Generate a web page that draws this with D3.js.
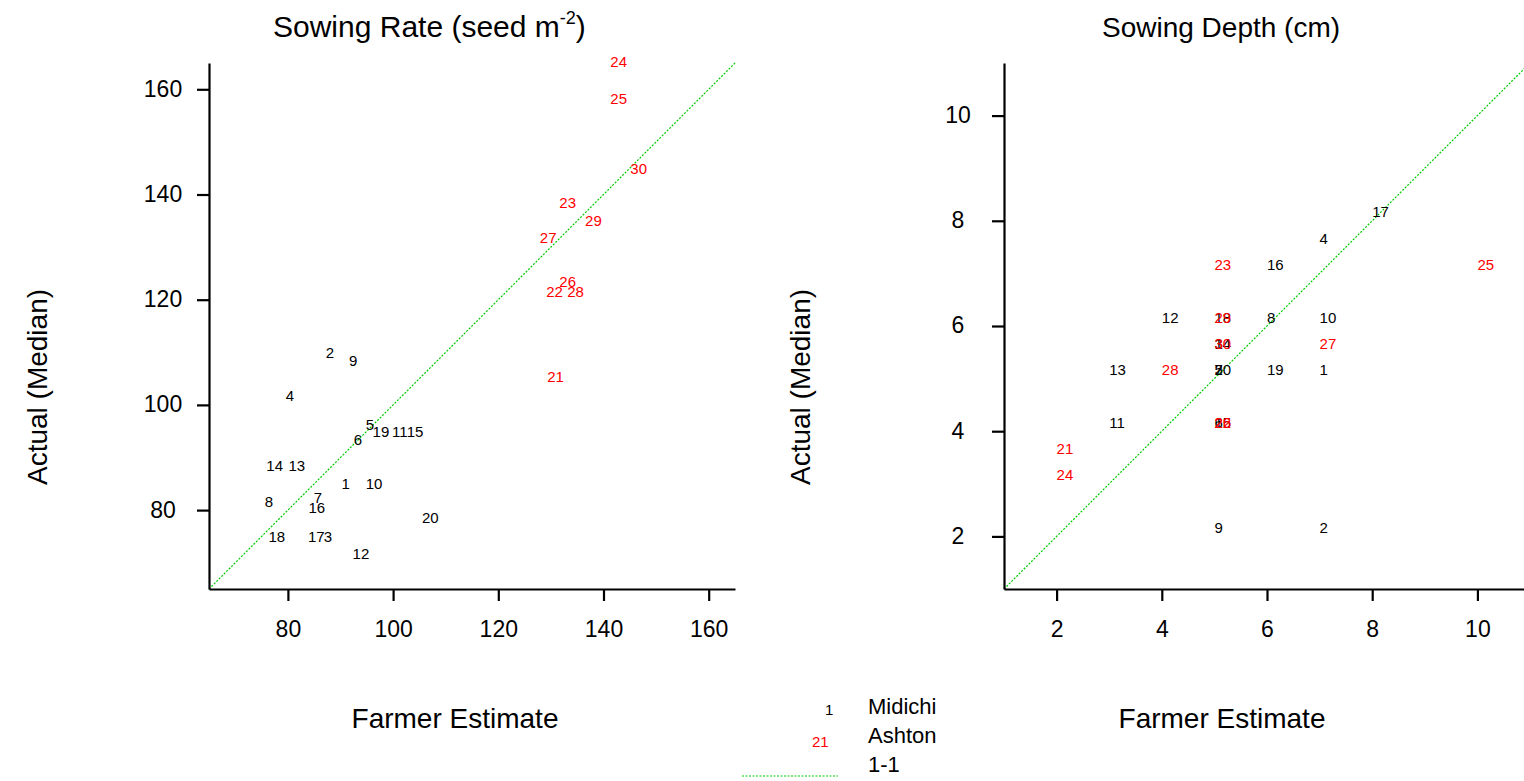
<!DOCTYPE html>
<html>
<head>
<meta charset="utf-8">
<script src="https://cdn.jsdelivr.net/npm/d3@7"></script>
<style>
  html, body { margin: 0; padding: 0; background: #fff; }
  svg { display: block; font-family: "Liberation Sans", Arial, sans-serif; }
</style>
</head>
<body>
<svg id="chart" width="1524" height="781"></svg>
<script>
// Plot numbers: farms 1-20 are Midichi, 21-30 are Ashton
const midichiIds = [1, 2, 3, 4, 5, 6, 7, 8, 9, 10, 11, 12, 13, 14, 15, 16, 17, 18, 19, 20];
const ashtonIds = [21, 22, 23, 24, 25, 26, 27, 28, 29, 30];

// Sowing rate (seed m-2): farmer estimate vs actual median
const rateMidichiEst = [90.2, 87.2, 86.8, 79.6, 94.8, 92.5, 84.9, 75.6, 91.6, 94.8, 99.8, 92.3, 80.1, 75.9, 102.6, 83.9, 83.8, 76.3, 96.1, 105.5];
const rateMidichiAct = [83.4, 108.3, 73.3, 100.0, 94.6, 91.8, 80.6, 80.0, 106.8, 83.4, 93.3, 70.1, 86.7, 86.7, 93.3, 78.7, 73.3, 73.3, 93.3, 76.8];
const rateAshtonEst = [129.3, 129.1, 131.6, 141.3, 141.3, 131.6, 127.9, 133.1, 136.5, 145.1];
const rateAshtonAct = [103.6, 119.9, 136.8, 163.5, 156.6, 121.8, 130.2, 119.9, 133.4, 143.3];

// Sowing depth (cm): farmer estimate vs actual median
const depthMidichiEst = [7, 7, 5, 7, 5, 5, 5, 6, 5, 7, 3, 4, 3, 5, 5, 6, 8, 5, 6, 5];
const depthMidichiAct = [5, 2, 5.5, 7.5, 5, 4, 5, 6, 2, 6, 4, 6, 5, 5.5, 4, 7, 8, 6, 5, 5];
const depthAshtonEst = [2, 5, 5, 2, 10, 5, 7, 4, 5, 5];
const depthAshtonAct = [3.5, 4, 7, 3, 7, 4, 5.5, 5, 6, 5.5];

const rateDomain = [65, 165];
const depthDomain = [1, 11];
const rateTicks = [80, 100, 120, 140, 160];
const depthTicks = [2, 4, 6, 8, 10];

const svg = d3.select("#chart");
const BLACK = "#000000", RED = "#ff0000", GREEN = "#00cc00";

function panel(opts) {
  const x = d3.scaleLinear().domain(opts.domain).range([opts.left, opts.left + opts.size]);
  const y = d3.scaleLinear().domain(opts.domain).range([opts.bottom, opts.bottom - opts.size]);
  const g = svg.append("g");

  // 1-1 reference line
  g.append("line")
    .attr("x1", x(opts.domain[0])).attr("y1", y(opts.domain[0]))
    .attr("x2", x(opts.domain[1])).attr("y2", y(opts.domain[1]))
    .attr("stroke", GREEN).attr("stroke-width", 1.2)
    .attr("stroke-dasharray", "2,1.5");

  // axes
  const xAxis = d3.axisBottom(x).tickValues(opts.ticks).tickSize(12).tickSizeOuter(0).tickPadding(20);
  const yAxis = d3.axisLeft(y).tickValues(opts.ticks).tickSize(12).tickSizeOuter(0).tickPadding(22);
  const gx = g.append("g").attr("transform", `translate(0,${opts.bottom})`).call(xAxis);
  const gy = g.append("g").attr("transform", `translate(${opts.left},0)`).call(yAxis);
  [gx, gy].forEach(a => {
    a.selectAll("path, line").attr("stroke", BLACK).attr("stroke-width", 2.2);
    a.selectAll("text").attr("fill", BLACK).style("font-size", "23px");
  });
  gy.selectAll("text").attr("text-anchor", "middle").attr("x", -46).attr("dy", "0.3em");

  // numbered points
  const series = [
    { ids: midichiIds, est: opts.midichiEst, act: opts.midichiAct, color: BLACK },
    { ids: ashtonIds, est: opts.ashtonEst, act: opts.ashtonAct, color: RED }
  ];
  series.forEach(s => {
    g.append("g").selectAll("text")
      .data(s.ids.map((id, i) => ({ id, est: s.est[i], act: s.act[i] })))
      .join("text")
      .attr("x", d => x(d.est))
      .attr("y", d => y(d.act) - 3.5)
      .attr("fill", s.color)
      .style("font-size", "15px")
      .text(d => d.id);
  });

  // axis titles
  g.append("text")
    .attr("x", opts.xLabelX).attr("y", 728)
    .attr("text-anchor", "middle").style("font-size", "28px")
    .text("Farmer Estimate");
  g.append("text")
    .attr("transform", `translate(${opts.yLabelX},387) rotate(-90)`)
    .attr("text-anchor", "middle").style("font-size", "28px")
    .text("Actual (Median)");

  return g;
}

const left = panel({
  domain: rateDomain, ticks: rateTicks, left: 209, bottom: 589, size: 526,
  midichiEst: rateMidichiEst, midichiAct: rateMidichiAct,
  ashtonEst: rateAshtonEst, ashtonAct: rateAshtonAct,
  xLabelX: 455, yLabelX: 47
});
const right = panel({
  domain: depthDomain, ticks: depthTicks, left: 1004, bottom: 589, size: 526,
  midichiEst: depthMidichiEst, midichiAct: depthMidichiAct,
  ashtonEst: depthAshtonEst, ashtonAct: depthAshtonAct,
  xLabelX: 1222, yLabelX: 810
});

// panel titles
const t1 = svg.append("text").attr("x", 273).attr("y", 37)
  .attr("text-anchor", "start").style("font-size", "30px");
t1.append("tspan").text("Sowing Rate (seed m");
t1.append("tspan").attr("dy", -13).style("font-size", "18px").text("-2");
t1.append("tspan").attr("dy", 13).text(")");

svg.append("text").attr("x", 1102).attr("y", 37)
  .attr("text-anchor", "start").style("font-size", "28px")
  .text("Sowing Depth (cm)");

// legend
const legend = svg.append("g");
legend.append("text").attr("x", 825).attr("y", 715).attr("fill", BLACK)
  .style("font-size", "15px").text("1");
legend.append("text").attr("x", 812).attr("y", 747).attr("fill", RED)
  .style("font-size", "15px").text("21");
legend.append("line").attr("x1", 742).attr("x2", 838).attr("y1", 776).attr("y2", 776)
  .attr("stroke", GREEN).attr("stroke-width", 1.2).attr("stroke-dasharray", "2,1.5");
const legendNames = ["Midichi", "Ashton", "1-1"];
const legendY = [714, 743, 772];
legend.selectAll("text.name").data(legendNames).join("text")
  .attr("class", "name")
  .attr("x", 868).attr("y", (d, i) => legendY[i])
  .style("font-size", "22px").text(d => d);
</script>
</body>
</html>
